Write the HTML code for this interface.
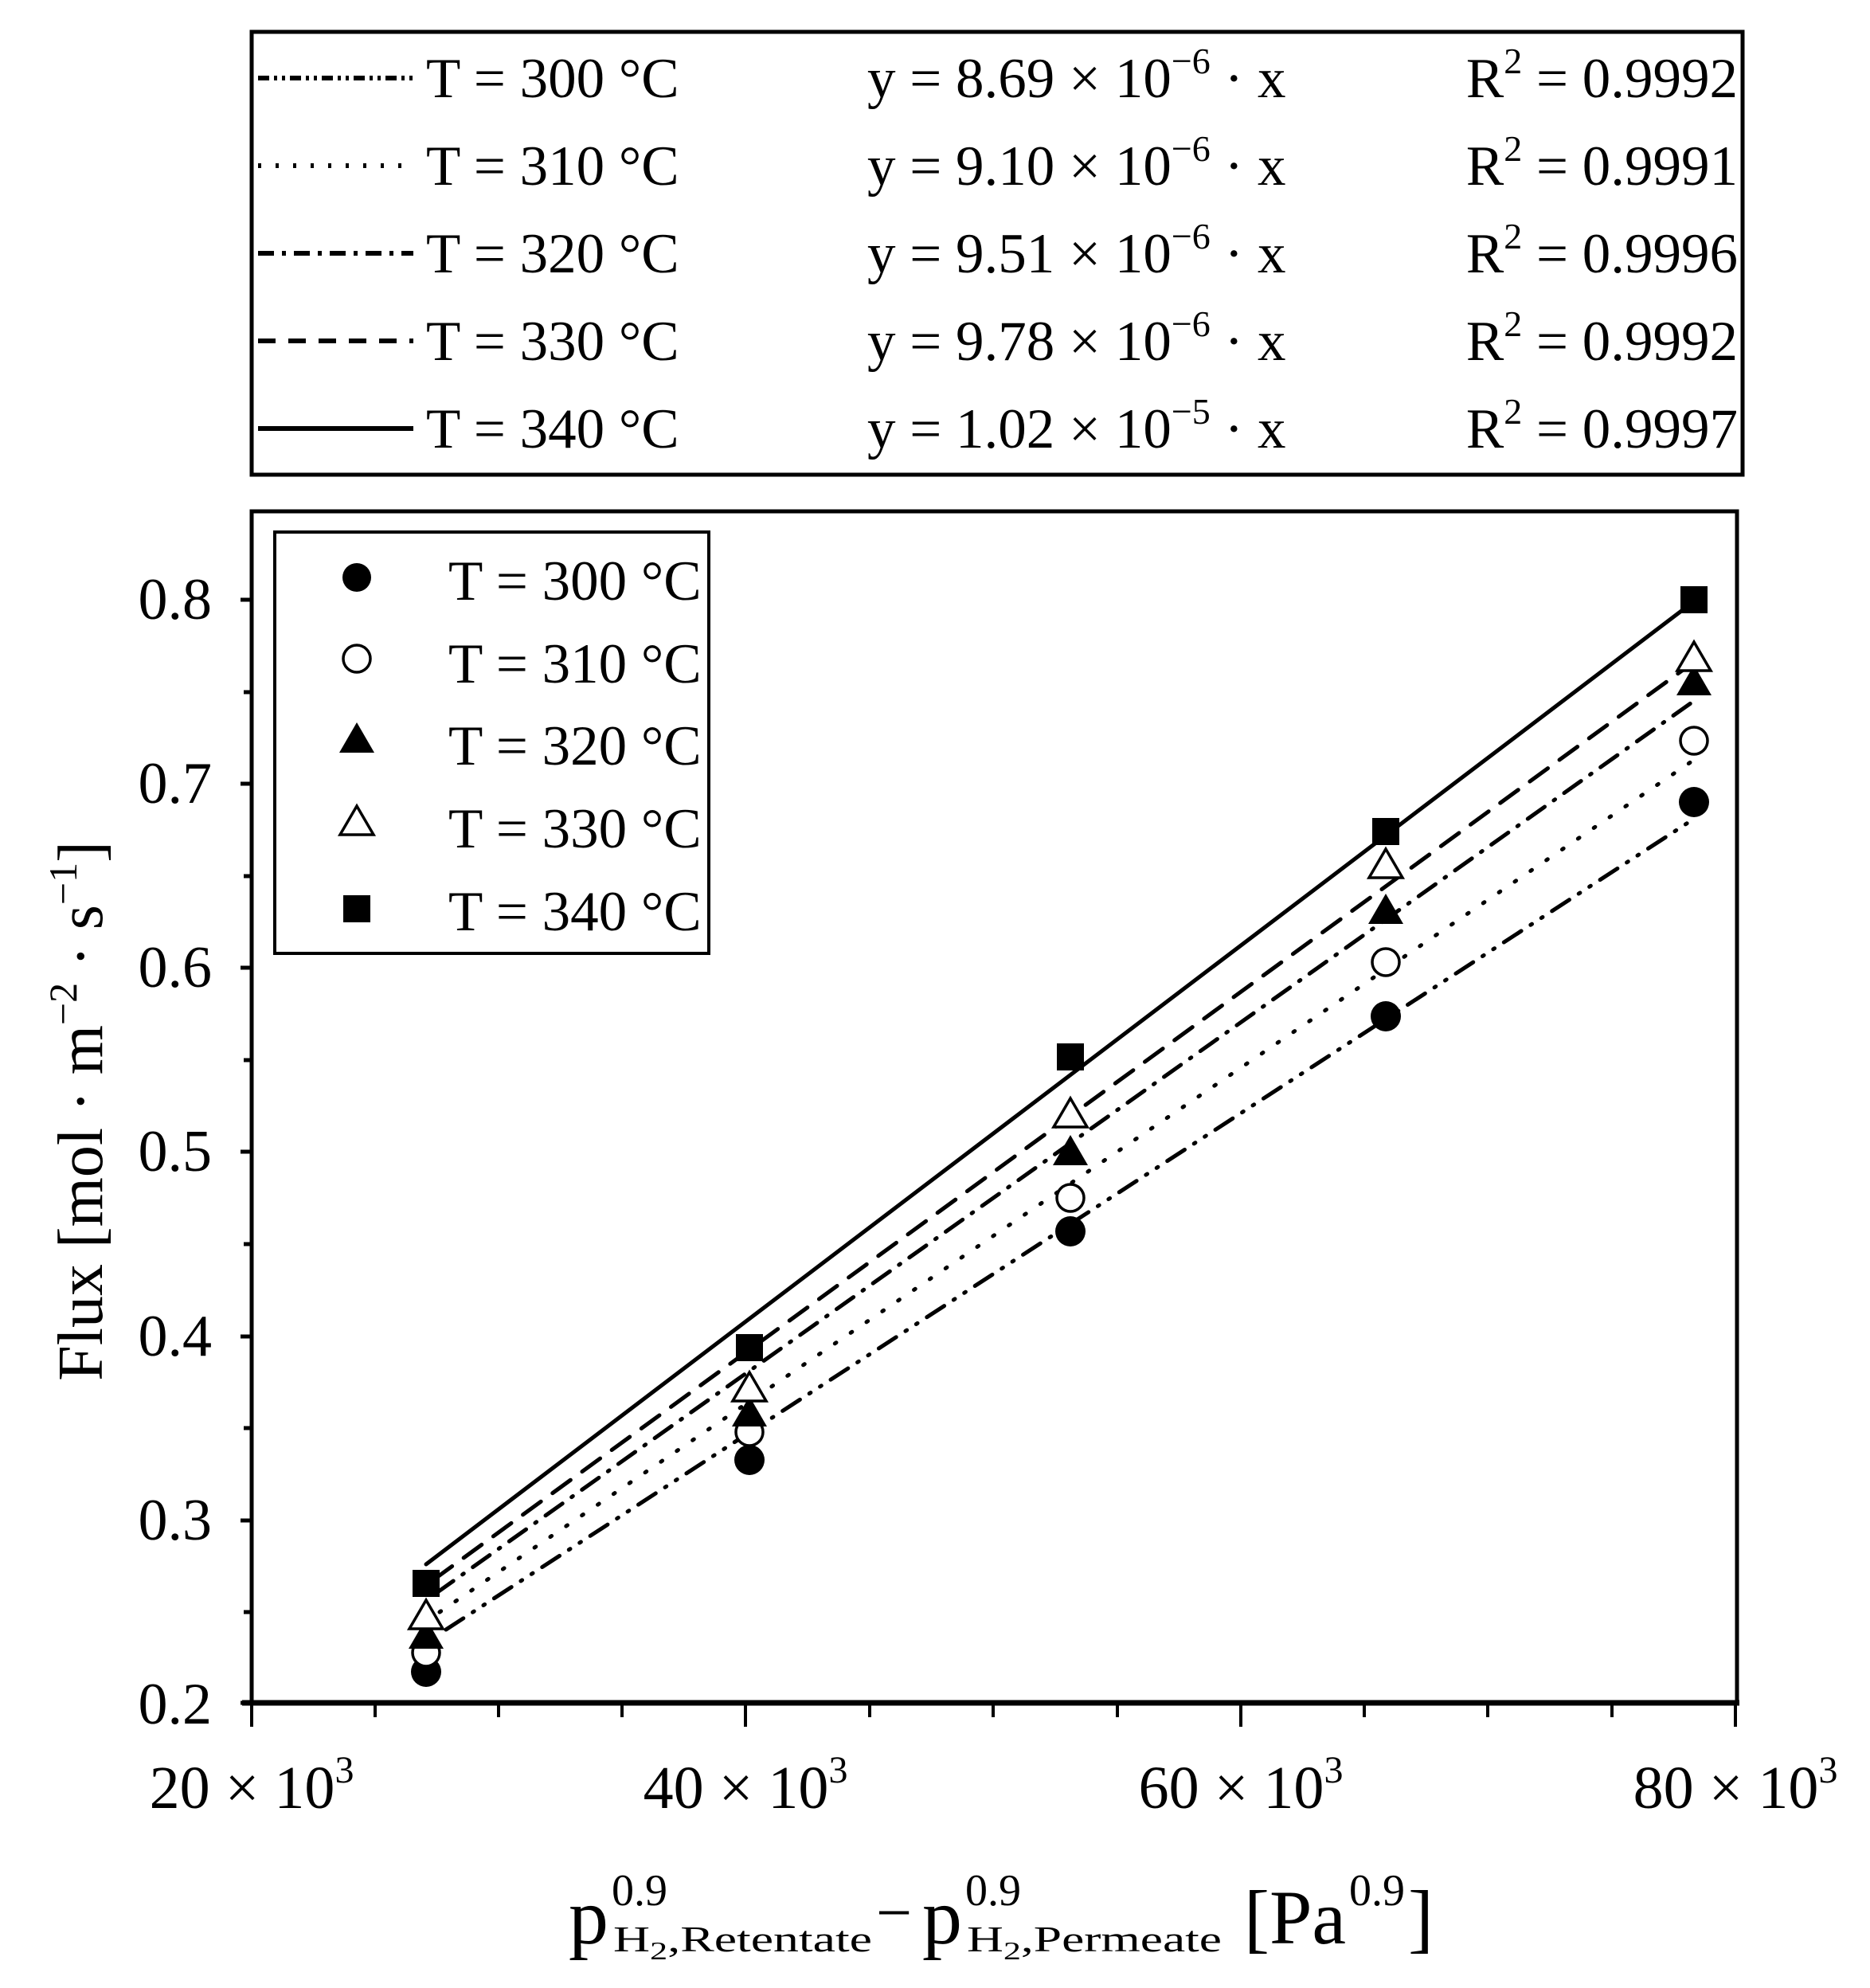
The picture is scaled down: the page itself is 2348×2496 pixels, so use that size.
<!DOCTYPE html>
<html><head><meta charset="utf-8"><style>html,body{margin:0;padding:0;background:#fff}svg{display:block}text{font-family:"Liberation Serif",serif;fill:#000}</style></head><body>
<svg width="2348" height="2496" viewBox="0 0 2348 2496" xmlns="http://www.w3.org/2000/svg">
<rect x="316" y="40" width="1872" height="556" fill="none" stroke="#000" stroke-width="5"/>
<g stroke="#000" stroke-width="6" fill="none">
<line x1="324" y1="98" x2="519" y2="98" stroke-dasharray="14,6,4,6,4,6"/>
<line x1="324" y1="208" x2="519" y2="208" stroke-dasharray="4,18"/>
<line x1="324" y1="318" x2="519" y2="318" stroke-dasharray="20,10,5,10"/>
<line x1="324" y1="428" x2="519" y2="428" stroke-dasharray="22,16"/>
<line x1="324" y1="538" x2="519" y2="538"/>
</g>
<g font-size="71">
<text x="535" y="122">T = 300 °C</text>
<text x="535" y="232">T = 310 °C</text>
<text x="535" y="342">T = 320 °C</text>
<text x="535" y="452">T = 330 °C</text>
<text x="535" y="562">T = 340 °C</text>
<text x="1089" y="122">y = 8.69 × 10<tspan dy="-30" font-size="46">−6</tspan><tspan dy="30"> · x</tspan></text>
<text x="1089" y="232">y = 9.10 × 10<tspan dy="-30" font-size="46">−6</tspan><tspan dy="30"> · x</tspan></text>
<text x="1089" y="342">y = 9.51 × 10<tspan dy="-30" font-size="46">−6</tspan><tspan dy="30"> · x</tspan></text>
<text x="1089" y="452">y = 9.78 × 10<tspan dy="-30" font-size="46">−6</tspan><tspan dy="30"> · x</tspan></text>
<text x="1089" y="562">y = 1.02 × 10<tspan dy="-30" font-size="46">−5</tspan><tspan dy="30"> · x</tspan></text>
<text x="2182" y="122" text-anchor="end">R<tspan dy="-30" font-size="46">2</tspan><tspan dy="30"> = 0.9992</tspan></text>
<text x="2182" y="232" text-anchor="end">R<tspan dy="-30" font-size="46">2</tspan><tspan dy="30"> = 0.9991</tspan></text>
<text x="2182" y="342" text-anchor="end">R<tspan dy="-30" font-size="46">2</tspan><tspan dy="30"> = 0.9996</tspan></text>
<text x="2182" y="452" text-anchor="end">R<tspan dy="-30" font-size="46">2</tspan><tspan dy="30"> = 0.9992</tspan></text>
<text x="2182" y="562" text-anchor="end">R<tspan dy="-30" font-size="46">2</tspan><tspan dy="30"> = 0.9997</tspan></text>
</g>
<rect x="316" y="642" width="1865" height="1496" fill="none" stroke="#000" stroke-width="5"/>
<line x1="304" y1="2138" x2="2184" y2="2138" stroke="#000" stroke-width="7"/>
<g stroke="#000" stroke-width="5">
<line x1="302" y1="2138" x2="316" y2="2138"/><line x1="302" y1="1909" x2="316" y2="1909"/><line x1="302" y1="1678" x2="316" y2="1678"/><line x1="302" y1="1446" x2="316" y2="1446"/><line x1="302" y1="1215" x2="316" y2="1215"/><line x1="302" y1="984" x2="316" y2="984"/><line x1="302" y1="753" x2="316" y2="753"/>
<line x1="306" y1="2024" x2="316" y2="2024"/><line x1="306" y1="1793" x2="316" y2="1793"/><line x1="306" y1="1562" x2="316" y2="1562"/><line x1="306" y1="1331" x2="316" y2="1331"/><line x1="306" y1="1100" x2="316" y2="1100"/><line x1="306" y1="869" x2="316" y2="869"/>
</g>
<g stroke="#000" stroke-width="4">
<line x1="316" y1="2138" x2="316" y2="2168"/><line x1="936" y1="2138" x2="936" y2="2168"/><line x1="1558" y1="2138" x2="1558" y2="2168"/><line x1="2179" y1="2138" x2="2179" y2="2168"/>
<line x1="471" y1="2138" x2="471" y2="2156"/><line x1="626" y1="2138" x2="626" y2="2156"/><line x1="781" y1="2138" x2="781" y2="2156"/><line x1="1092" y1="2138" x2="1092" y2="2156"/><line x1="1247" y1="2138" x2="1247" y2="2156"/><line x1="1403" y1="2138" x2="1403" y2="2156"/><line x1="1713" y1="2138" x2="1713" y2="2156"/><line x1="1868" y1="2138" x2="1868" y2="2156"/><line x1="2024" y1="2138" x2="2024" y2="2156"/>
</g>
<g font-size="74" text-anchor="end">
<text x="266" y="2164">0.2</text><text x="266" y="1933">0.3</text><text x="266" y="1702">0.4</text><text x="266" y="1470">0.5</text><text x="266" y="1239">0.6</text><text x="266" y="1008">0.7</text><text x="266" y="777">0.8</text>
</g>
<g font-size="76" text-anchor="middle">
<text x="316" y="2270">20 × 10<tspan dy="-32" font-size="48">3</tspan></text>
<text x="936" y="2270">40 × 10<tspan dy="-32" font-size="48">3</tspan></text>
<text x="1558" y="2270">60 × 10<tspan dy="-32" font-size="48">3</tspan></text>
<text x="2179" y="2270">80 × 10<tspan dy="-32" font-size="48">3</tspan></text>
</g>
<!-- x axis title -->
<text font-size="100" x="714" y="2440">p</text>
<text font-size="56" x="768" y="2392">0.9</text>
<text font-size="46" x="770" y="2450" textLength="325" lengthAdjust="spacingAndGlyphs">H<tspan font-size="32" dy="10">2</tspan><tspan dy="-10">,Retentate</tspan></text>
<text font-size="80" x="1100" y="2428">−</text>
<text font-size="100" x="1158" y="2440">p</text>
<text font-size="56" x="1212" y="2392">0.9</text>
<text font-size="46" x="1214" y="2450" textLength="320" lengthAdjust="spacingAndGlyphs">H<tspan font-size="32" dy="10">2</tspan><tspan dy="-10">,Permeate</tspan></text>
<text font-size="96" x="1562" y="2440">[Pa</text>
<text font-size="56" x="1694" y="2392">0.9</text>
<text font-size="96" x="1768" y="2440">]</text>
<text font-size="80" transform="translate(128,1395) rotate(-90)" text-anchor="middle">Flux [mol · m<tspan font-size="50" dy="-32">−2</tspan><tspan dy="32"> · s</tspan><tspan font-size="50" dy="-32">−1</tspan><tspan dy="32">]</tspan></text>
<g stroke="#000" stroke-width="5" fill="none" stroke-linecap="round">
<line x1="535" y1="1964" x2="2127" y2="755"/>
<line x1="545" y1="1983" x2="2127" y2="831" stroke-dasharray="28,18"/>
<line x1="548" y1="2000" x2="2127" y2="880" stroke-dasharray="26,14,2,14"/>
<line x1="552" y1="2024" x2="2127" y2="954" stroke-dasharray="2,22"/>
<line x1="560" y1="2046" x2="2127" y2="1028" stroke-dasharray="26,14,2,14,2,14"/>
</g>
<g fill="#000">
<circle cx="535" cy="2099" r="19"/><circle cx="941" cy="1833" r="19"/><circle cx="1344" cy="1546" r="19"/><circle cx="1740" cy="1276" r="19"/><circle cx="2127" cy="1007" r="19"/>
</g>
<g fill="#fff" stroke="#000" stroke-width="3.5">
<circle cx="535" cy="2075" r="17"/><circle cx="941" cy="1798" r="17"/><circle cx="1344" cy="1504" r="17"/><circle cx="1740" cy="1208" r="17"/><circle cx="2127" cy="930" r="17"/>
</g>
<g fill="#000">
<polygon points="535,2032 557,2070 513,2070"/><polygon points="941,1753 963,1791 919,1791"/><polygon points="1344,1425 1366,1463 1322,1463"/><polygon points="1740,1122 1762,1160 1718,1160"/><polygon points="2127,835 2149,873 2105,873"/>
</g>
<g fill="#fff" stroke="#000" stroke-width="3.5">
<polygon points="535,2009 556,2045 514,2045"/><polygon points="941,1723 962,1759 920,1759"/><polygon points="1344,1379 1365,1415 1323,1415"/><polygon points="1740,1066 1761,1102 1719,1102"/><polygon points="2127,806 2148,842 2106,842"/>
</g>
<g fill="#000">
<rect x="518" y="1971" width="34" height="34"/><rect x="924" y="1675" width="34" height="34"/><rect x="1327" y="1310" width="34" height="34"/><rect x="1723" y="1027" width="34" height="34"/><rect x="2110" y="736" width="34" height="34"/>
</g>
<rect x="345" y="668" width="545" height="529" fill="#fff" stroke="#000" stroke-width="4"/>
<circle cx="448" cy="725" r="18" fill="#000"/>
<circle cx="448" cy="827" r="17" fill="#fff" stroke="#000" stroke-width="3.5"/>
<polygon points="448,907 470,945 426,945" fill="#000"/>
<polygon points="448,1012 469,1048 427,1048" fill="#fff" stroke="#000" stroke-width="3.5"/>
<rect x="431" y="1124" width="34" height="34" fill="#000"/>
<g font-size="71">
<text x="563" y="753">T = 300 °C</text>
<text x="563" y="857">T = 310 °C</text>
<text x="563" y="960">T = 320 °C</text>
<text x="563" y="1064">T = 330 °C</text>
<text x="563" y="1168">T = 340 °C</text>
</g>
</svg>
</body></html>
